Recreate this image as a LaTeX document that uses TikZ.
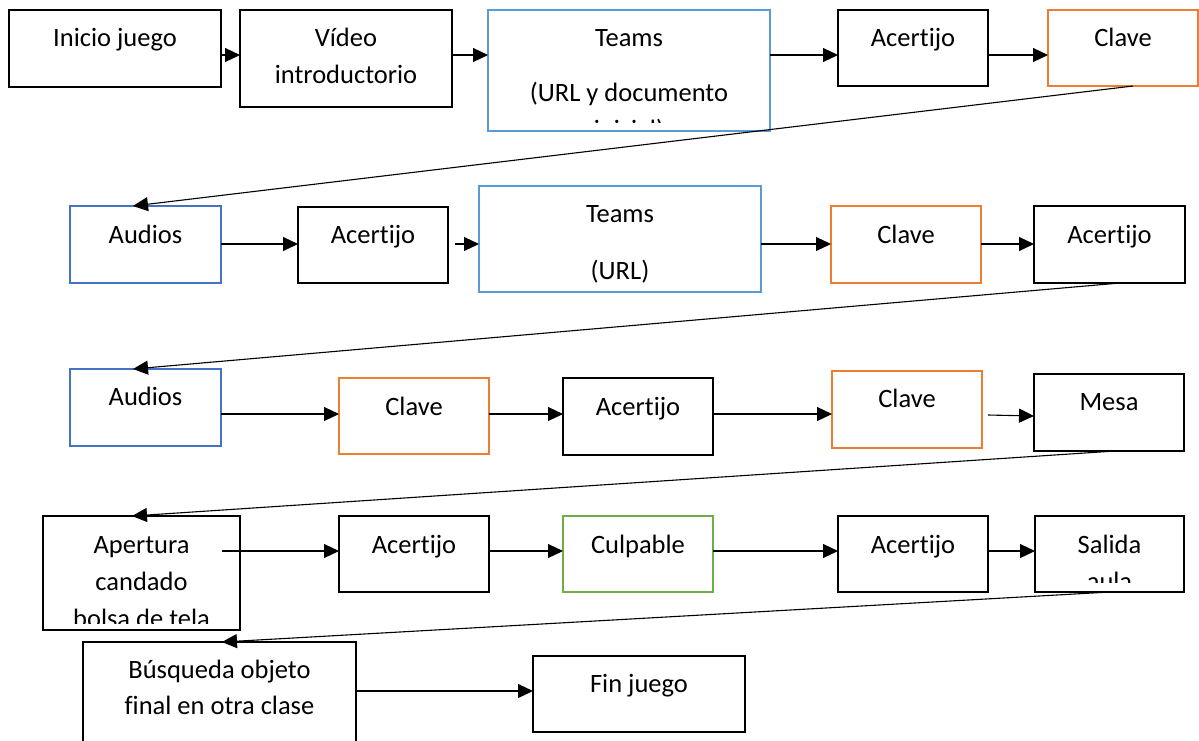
\documentclass[tikz,border=0pt]{standalone}
\usepackage{fontspec}
\setmainfont{Carlito}[Ligatures=NoCommon]
\usetikzlibrary{arrows.meta,fit,calc}

\definecolor{teamsblue}{HTML}{5B9BD5}
\definecolor{audioblue}{HTML}{4472C4}
\definecolor{keyorange}{HTML}{ED7D31}
\definecolor{culpgreen}{HTML}{70AD47}

\tikzset{
  box/.style={draw=black, line width=1.7pt, inner sep=0pt, outer sep=0pt, rectangle},
  bluebox/.style={box, draw=audioblue, line width=1.5pt},
  teamsbox/.style={box, draw=teamsblue, line width=1.5pt},
  orangebox/.style={box, draw=keyorange, line width=1.5pt},
  greenbox/.style={box, draw=culpgreen, line width=1.5pt},
  txt/.style={anchor=base, inner sep=0pt, font=\fontsize{26.5}{37}\selectfont},
  arr/.style={line width=1.1pt, -{Triangle[length=15pt,width=14pt]}},
}

\begin{document}
\begin{tikzpicture}[x=1pt,y=-1pt]
\useasboundingbox (0,0) rectangle (1199,740);
\clip (0,0) rectangle (1199,740);

% ---- row 1 ----
\node[box,      fit={(9,10)(221,87)}]     (b1) {};
\node[box,      fit={(240,10)(452,107)}]  (b2) {};
\node[teamsbox, fit={(488,10)(770,131)}]  (b3) {};
\node[box,      fit={(838,10)(988,86)}]   (b4) {};
\node[orangebox,fit={(1048,10)(1198,86)}] (b5) {};

\node[txt] (t1)  at (b1.north |- 0,46) {Inicio juego};
\node[txt] (t2a) at (b2.north |- 0,46) {Vídeo};
\node[txt] (t2b) at (b2.north |- 0,83) {introductorio};
\node[txt] (t3a) at (b3.north |- 0,46) {Teams};
\node[txt] (t3b) at (b3.north |- 0,101) {(URL y documento};
\begin{scope}
  \clip (b3.north west) rectangle ($(b3.south east)+(0,-9)$);
  \node[txt] (t3c) at (b3.north |- 0,138) {inicial)};
\end{scope}
\node[txt] (t4) at (b4.north |- 0,46) {Acertijo};
\node[txt] (t5) at (b5.north |- 0,46) {Clave};

\draw[arr] (b1.east |- 0,55) -- (b2.west |- 0,55);
\draw[arr] (b2.east |- 0,55) -- (b3.west |- 0,55);
\draw[arr] (b3.east |- 0,55) -- (b4.west |- 0,55);
\draw[arr] (b4.east |- 0,55) -- (b5.west |- 0,55);

% ---- row 2 ----
\node[bluebox,  fit={(70,206)(221,283)}]   (c1) {};
\node[box,      fit={(298,207)(448,283)}]  (c2) {};
\node[teamsbox, fit={(479,186)(761,292)}]  (c3) {};
\node[orangebox,fit={(831,206)(981,283)}]  (c4) {};
\node[box,      fit={(1034,206)(1185,283)}] (c5) {};

\node[txt] (u1)  at (c1.north |- 0,243) {Audios};
\node[txt] (u2)  at (c2.north |- 0,243) {Acertijo};
\node[txt] (u3a) at (c3.north |- 0,222) {Teams};
\node[txt] (u3b) at (c3.north |- 0,279) {(URL)};
\node[txt] (u4)  at (c4.north |- 0,243) {Clave};
\node[txt] (u5)  at (c5.north |- 0,243) {Acertijo};

\draw[arr] (c1.east |- 0,244) -- (c2.west |- 0,244);
\draw[arr] ($(c2.east |- 0,244)+(7,0)$) -- (c3.west |- 0,244);
\draw[arr] (c3.east |- 0,244) -- (c4.west |- 0,244);
\draw[arr] (c4.east |- 0,244) -- (c5.west |- 0,244);

% ---- row 3 ----
\node[bluebox,  fit={(70,369)(221,446)}]   (d1) {};
\node[orangebox,fit={(339,378)(489,454)}]  (d2) {};
\node[box,      fit={(563,378)(713,455)}]  (d3) {};
\node[orangebox,fit={(832,371)(982,448)}]  (d4) {};
\node[box,      fit={(1034,374)(1184,451)}] (d5) {};

\node[txt] (v1) at (d1.north |- 0,405) {Audios};
\node[txt] (v2) at (d2.north |- 0,415) {Clave};
\node[txt] (v3) at (d3.north |- 0,415) {Acertijo};
\node[txt] (v4) at (d4.north |- 0,407) {Clave};
\node[txt] (v5) at (d5.north |- 0,410) {Mesa};

\draw[arr] (d1.east |- 0,414) -- (d2.west |- 0,414);
\draw[arr] (d2.east |- 0,414) -- (d3.west |- 0,414);
\draw[arr] (d3.east |- 0,414) -- (d4.west |- 0,414);
\draw[arr] ($(d4.east |- 0,415)+(6,0)$) -- (d5.west |- 0,416);

% ---- row 4 ----
\node[box,      fit={(43,516)(240,630)}]   (e1) {};
\node[box,      fit={(339,516)(489,592)}]  (e2) {};
\node[greenbox, fit={(563,516)(713,592)}]  (e3) {};
\node[box,      fit={(838,516)(988,592)}]  (e4) {};
\node[box,      fit={(1035,516)(1184,592)}] (e5) {};

\node[txt] (w1a) at (e1.north |- 0,553) {Apertura};
\node[txt] (w1b) at (e1.north |- 0,590) {candado};
\begin{scope}
  \clip (e1.north west) rectangle ($(e1.south east)+(0,-7)$);
  \node[txt] (w1c) at (e1.north |- 0,627) {bolsa de tela};
\end{scope}
\node[txt] (w2) at (e2.north |- 0,553) {Acertijo};
\node[txt] (w3) at (e3.north |- 0,553) {Culpable};
\node[txt] (w4) at (e4.north |- 0,553) {Acertijo};
\node[txt] (w5a) at (e5.north |- 0,553) {Salida};
\begin{scope}
  \clip (e5.north west) rectangle ($(e5.south east)+(0,-10)$);
  \node[txt] (w5b) at (e5.north |- 0,590) {aula};
\end{scope}

\draw[arr] ($(e1.east |- 0,551)+(-18,0)$) -- (e2.west |- 0,551);
\draw[arr] (e2.east |- 0,551) -- (e3.west |- 0,551);
\draw[arr] (e3.east |- 0,551) -- (e4.west |- 0,551);
\draw[arr] (e4.east |- 0,551) -- (e5.west |- 0,551);

% ---- row 5 ----
\node[box, fit={(83,642)(356,770)}] (f1) {};
\node[box, fit={(533,656)(745,732)}] (f2) {};

\node[txt] (x1a) at (f1.north |- 0,678) {Búsqueda objeto};
\node[txt] (x1b) at (f1.north |- 0,714) {final en otra clase};
\node[txt] (x2)  at (f2.north |- 0,692) {Fin juego};

\draw[arr] (f1.east |- 0,691) -- (f2.west |- 0,691);

% ---- links from the end of each row to the start of the next ----
\draw[arr] (b5.south -| 1133,0) -- (c1.north -| 133,0);
\draw[arr] (c5.south -| 1120,0) -- (d1.north -| 133,0);
\draw[arr] (d5.south -| 1115,0) -- (e1.north -| 132,0);
\draw[arr] (e5.south -| 1110,0) -- (f1.north -| 222,0);
\end{tikzpicture}
\end{document}
